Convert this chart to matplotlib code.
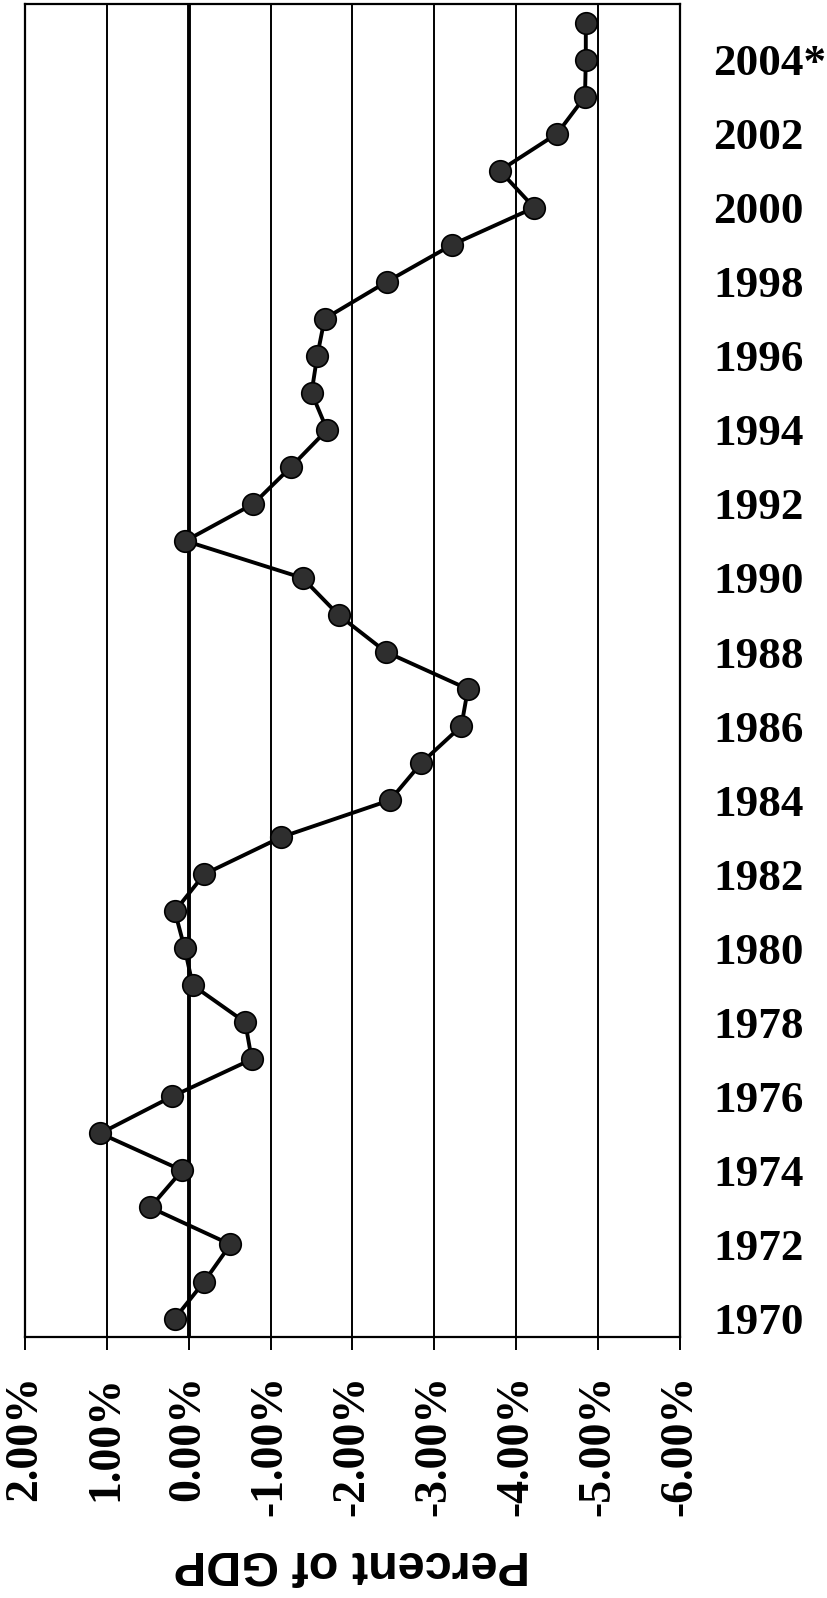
import matplotlib
matplotlib.use("Agg")
import matplotlib.pyplot as plt

# current account balance, percent of GDP
years = list(range(1970, 2006))
balance = [0.17, -0.19, -0.51, 0.47, 0.08, 1.08, 0.20, -0.77, -0.69, -0.05,
           0.05, 0.17, -0.19, -1.13, -2.46, -2.84, -3.33, -3.41, -2.41, -1.83,
           -1.39, 0.04, -0.79, -1.25, -1.69, -1.50, -1.57, -1.66, -2.42, -3.22,
           -4.22, -3.80, -4.50, -4.84, -4.85, -4.85]

pct_ticks = [2, 1, 0, -1, -2, -3, -4, -5, -6]
year_ticks = list(range(1970, 2005, 2))
year_labels = [str(y) for y in year_ticks[:-1]] + ["2004*"]

serif = "Liberation Serif"

fig = plt.figure(figsize=(8.27, 15.98), dpi=100)
ax = fig.add_axes([0.0302, 0.1633, 0.7920, 0.8342])

# vertical grid, zero line a bit heavier
for v in pct_ticks[1:-1]:
    ax.axvline(v, color="black", linewidth=2.8 if v == 0 else 1.4, zorder=1)

ax.plot(balance, years, color="black", linewidth=2.8, zorder=2,
        marker="o", markersize=15.5, markerfacecolor="#2e2e2e",
        markeredgecolor="black", markeredgewidth=1.2)

ax.set_xlim(2, -6)
ax.set_ylim(1969.5, 2005.5)

ax.set_xticks(pct_ticks)
ax.set_xticklabels([f"{v:.2f}%" for v in pct_ticks], rotation=90,
                   fontfamily=serif, fontweight="bold", fontsize=33)
ax.tick_params(axis="x", direction="out", length=9.5, width=1.4, pad=18)

ax.yaxis.tick_right()
ax.set_yticks(year_ticks)
ax.set_yticklabels(year_labels, fontfamily=serif, fontweight="bold",
                   fontsize=32.5)
ax.tick_params(axis="y", length=0, pad=24)

for sp in ax.spines.values():
    sp.set_linewidth(1.6)
    sp.set_color("black")

fig.text(0.4256, 0.0219, "Percent of GDP", rotation=180, ha="center",
         va="center", fontfamily="Liberation Sans", fontweight="bold",
         fontsize=35)

fig.savefig("out.png", dpi=100)
